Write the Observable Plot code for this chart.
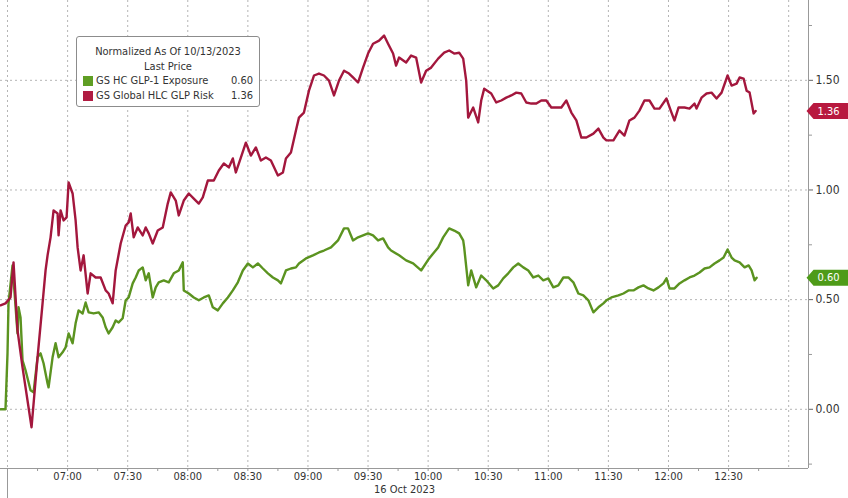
<!DOCTYPE html>
<html><head><meta charset="utf-8">
<script src="https://cdn.jsdelivr.net/npm/d3@7"></script>
<script src="https://cdn.jsdelivr.net/npm/@observablehq/plot@0.6"></script>
<style>
html,body{margin:0;padding:0;background:#fff;}
#wrap{position:relative;width:848px;height:498px;overflow:hidden;}
#legend{position:absolute;left:76px;top:36px;width:184px;height:71px;border:1px solid #8c8c8c;border-radius:3px;background:#fff;box-sizing:border-box;font:11px "DejaVu Sans Condensed","DejaVu Sans",sans-serif;color:#333;}
#legend .t{position:absolute;left:0;width:100%;text-align:center;line-height:14px;}
#legend .e{position:absolute;left:6px;right:6px;height:14px;line-height:14px;display:flex;align-items:center;}
#legend .sq{width:10px;height:10px;margin-right:3px;flex:none;}
#legend .n{flex:1;white-space:nowrap;}
#legend .v{flex:none;}
</style></head>
<body><div id="wrap"><div id="chart"></div><div id="legend"></div></div>
<script>
// ---- data (time = minutes since midnight, 16 Oct 2023) ----
const redName = "GS Global HLC GLP Risk";
const greenName = "GS HC GLP-1 Exposure";
const legendTitle = "Normalized As Of 10/13/2023";
const legendSub = "Last Price";
const dateLabel = "16 Oct 2023";

const redT = [386.5,389,391.5,393,395,397.5,399,402,405,407.5,409,410,411.5,413,415,415.5,416.5,418,419.5,420.5,422.5,424,425,426.5,428,430,431.5,434,436.5,439,440.5,442.5,444,446.5,449,450.5,451.5,453,455,457.5,459,460.5,462.5,465,467.5,470,471.5,474,475.5,478,480.5,483,485.5,487.5,490,493,495.5,498,500.5,502.5,504,506.5,509,511.5,514,516.5,519,521.5,525,527.5,529,531.5,534,535.5,538,540.5,543,545.5,548,550.5,553,555.5,558,560.5,562.5,565,567.5,570,572.5,575.5,578,580,582.5,584,585.5,589,591.5,594,596.5,599,601.5,605,608,610.5,613,615.5,617.5,619,620,622.5,625,626.5,628,631.5,634,636.5,639,641.5,644,646.5,649,651.5,654,656.5,659,661.5,664,666.5,669,671.5,674,676.5,679,682.5,685,687.5,689,692.5,695.5,698,700.5,703,705.5,708,710.5,713,715.5,719,721.5,723,725,728,730.5,733,734,736.5,739,741.5,744,746.5,749.5,751.5,754,755.5,757.5,759,760.5,762.5,763.5];
const redV = [0.474,0.483,0.510,0.670,0.360,0.191,0.100,-0.082,0.237,0.483,0.633,0.702,0.784,0.907,0.893,0.793,0.907,0.861,0.875,1.034,0.984,0.861,0.738,0.633,0.702,0.528,0.620,0.601,0.601,0.542,0.528,0.483,0.633,0.756,0.838,0.852,0.893,0.784,0.829,0.793,0.829,0.802,0.756,0.815,0.829,0.938,0.989,0.952,0.884,0.952,0.984,0.961,0.938,0.966,1.043,1.043,1.089,1.121,1.103,1.144,1.080,1.148,1.216,1.157,1.194,1.134,1.148,1.134,1.066,1.080,1.144,1.171,1.271,1.330,1.353,1.453,1.522,1.531,1.522,1.499,1.431,1.499,1.544,1.531,1.513,1.490,1.558,1.622,1.667,1.681,1.704,1.667,1.622,1.567,1.604,1.581,1.613,1.604,1.490,1.544,1.558,1.599,1.626,1.636,1.622,1.626,1.599,1.499,1.330,1.376,1.308,1.408,1.462,1.440,1.399,1.408,1.421,1.431,1.444,1.440,1.399,1.394,1.394,1.408,1.408,1.376,1.376,1.376,1.408,1.353,1.317,1.239,1.239,1.257,1.280,1.239,1.226,1.226,1.271,1.248,1.317,1.330,1.362,1.408,1.408,1.371,1.371,1.417,1.353,1.317,1.376,1.376,1.371,1.394,1.371,1.421,1.440,1.444,1.417,1.444,1.522,1.476,1.485,1.513,1.508,1.453,1.444,1.349,1.360];

const greenT = [386.5,389,390,390.5,392.5,395,395.5,396.5,397.5,399,401.5,403,405,406.5,408,410,410.5,412.5,414,415.5,417.5,419,420.5,422.5,424,425.5,427.5,429,430.5,433,435.5,437.5,439,440.5,442.5,444,445.5,447.5,449,450.5,452.5,454,455.5,457.5,459,460.5,462.5,464,465.5,468,470.5,473,475.5,477.5,478,480.5,483,485.5,488,490.5,492.5,495,497.5,500,502.5,505,507.5,510,512.5,515,517.5,520,522.5,525,526.5,529,531.5,534,535.5,539,542.5,545.5,548,551.5,555,558,560,562.5,565,567.5,570,572.5,575,577.5,580,581.5,585.5,589,592.5,596.5,600.5,605,607.5,610.5,613,615.5,617.5,618,620,621.5,624,626.5,629,632.5,635,637.5,640,642.5,645,647.5,650,652.5,655,657.5,660,662.5,665,667.5,670,672.5,675,677.5,680,682.5,685,687.5,689,691.5,695,697.5,700,702.5,705,707.5,710,712.5,715,717.5,719,720.5,723,725.5,728,730.5,733,735.5,738,740.5,743,745.5,747.5,749.5,751.5,753,755.5,758,760,761.5,763,764];
const greenV = [0.0,0.0,0.255,0.483,0.656,0.346,0.465,0.419,0.223,0.178,0.087,0.077,0.237,0.255,0.210,0.118,0.100,0.237,0.301,0.237,0.260,0.282,0.346,0.301,0.392,0.451,0.437,0.487,0.442,0.437,0.442,0.419,0.374,0.346,0.374,0.405,0.396,0.415,0.497,0.510,0.574,0.601,0.633,0.647,0.588,0.620,0.510,0.556,0.579,0.588,0.579,0.620,0.633,0.670,0.542,0.528,0.510,0.497,0.510,0.519,0.465,0.451,0.483,0.510,0.542,0.579,0.633,0.665,0.647,0.665,0.642,0.620,0.601,0.588,0.574,0.633,0.642,0.647,0.665,0.688,0.702,0.715,0.724,0.738,0.770,0.825,0.825,0.770,0.784,0.793,0.802,0.793,0.770,0.779,0.738,0.724,0.702,0.679,0.665,0.633,0.688,0.738,0.784,0.825,0.815,0.802,0.770,0.738,0.565,0.633,0.556,0.610,0.588,0.551,0.565,0.597,0.620,0.647,0.665,0.647,0.633,0.601,0.610,0.588,0.597,0.556,0.565,0.601,0.601,0.579,0.528,0.519,0.497,0.442,0.465,0.483,0.497,0.510,0.519,0.528,0.542,0.542,0.556,0.565,0.551,0.542,0.556,0.574,0.597,0.551,0.551,0.574,0.588,0.601,0.610,0.624,0.642,0.647,0.665,0.679,0.692,0.729,0.692,0.679,0.670,0.647,0.656,0.633,0.588,0.600];

const xLabelTicks = ["07:00","07:30","08:00","08:30","09:00","09:30","10:00","10:30","11:00","11:30","12:00","12:30"];
const xGridTicks = ["06:30","07:00","07:30","08:00","08:30","09:00","09:30","10:00","10:30","11:00","11:30","12:00","12:30","13:00"];
const xMinorTicks = ["06:45","07:15","07:45","08:15","08:45","09:15","09:45","10:15","10:45","11:15","11:45","12:15","12:45"];
const yTicks = [0, 0.5, 1.0, 1.5];
const yMinorTicks = [-0.25, 0.25, 0.75, 1.25, 1.75];
const xDomain = [386.5, 789.9];
const yDomain = [-0.27, 1.864];

// ---- build ----
const toMin = s => { const [h, m] = s.split(":").map(Number); return h * 60 + m; };
const fmtTime = t => { const h = Math.floor(t / 60), m = Math.round(t % 60); return String(h).padStart(2, "0") + ":" + String(m).padStart(2, "0"); };
const red = redT.map((t, i) => ({t, v: redV[i]}));
const green = greenT.map((t, i) => ({t, v: greenV[i]}));
const redLast = red[red.length - 1].v;
const greenLast = green[green.length - 1].v;

const RED = "#a3173d", GREEN = "#5b9320";
const RED_BADGE = "#b8193f", GREEN_BADGE = "#4e9b18";
const FONT = '"DejaVu Sans Condensed","DejaVu Sans",sans-serif';

const badge = {draw(ctx) {
  ctx.moveTo(-2, 0); ctx.lineTo(5, -8); ctx.lineTo(44, -8); ctx.lineTo(44, 8); ctx.lineTo(5, 8); ctx.closePath();
}};

const chart = Plot.plot({
  width: 848, height: 498,
  marginLeft: 0, marginRight: 40, marginTop: 0, marginBottom: 30,
  x: {type: "linear", domain: xDomain},
  y: {domain: yDomain},
  style: {fontFamily: FONT, fontSize: "12px", color: "#333", background: "#fff", overflow: "visible"},
  marks: [
    Plot.ruleX(xGridTicks.map(toMin), {stroke: "#b5b5b5", strokeDasharray: "2,3"}),
    Plot.ruleY(yTicks, {stroke: "#b5b5b5", strokeDasharray: "2,3"}),
    Plot.ruleX([toMin(xGridTicks[0])], {stroke: "#999", insetTop: 468, insetBottom: -30}),
    Plot.ruleY([yDomain[0]], {stroke: "#999"}),
    Plot.ruleX([xDomain[1]], {stroke: "#999"}),
    Plot.axisX({ticks: xLabelTicks.map(toMin), tickFormat: fmtTime, tickSize: 3, tickPadding: 1, stroke: "#999", fill: "#333", fontSize: 11, label: null}),
    Plot.axisX({ticks: xMinorTicks.map(toMin), tickFormat: () => "", tickSize: 3, stroke: "#999", label: null}),
    Plot.axisY({anchor: "right", ticks: yTicks, tickFormat: d3.format(".2f"), tickSize: 4, tickPadding: 3, stroke: "#666", fill: "#333", fontSize: 12, label: null}),
    Plot.axisY({anchor: "right", ticks: yMinorTicks, tickFormat: () => "", tickSize: 3, stroke: "#999", label: null}),
    Plot.text([dateLabel], {frameAnchor: "bottom", dy: 24, fontSize: 11, fill: "#333"}),
    Plot.line(green, {x: "t", y: "v", stroke: GREEN, strokeWidth: 2.4, strokeLinejoin: "round"}),
    Plot.line(red, {x: "t", y: "v", stroke: RED, strokeWidth: 2.4, strokeLinejoin: "round"}),
    Plot.dot([redLast], {x: () => xDomain[1], y: d => d, symbol: badge, fill: RED_BADGE, stroke: "none", r: 8}),
    Plot.dot([greenLast], {x: () => xDomain[1], y: d => d, symbol: badge, fill: GREEN_BADGE, stroke: "none", r: 8}),
    Plot.text([redLast], {x: () => xDomain[1], y: d => d, text: d => d.toFixed(2), dx: 20, fill: "#fff", fontSize: 11}),
    Plot.text([greenLast], {x: () => xDomain[1], y: d => d, text: d => d.toFixed(2), dx: 20, fill: "#fff", fontSize: 11})
  ]
});
document.getElementById("chart").appendChild(chart);

// legend
const lg = document.getElementById("legend");
lg.innerHTML = `
  <div class="t" style="top:8px">${legendTitle}</div>
  <div class="t" style="top:23px">${legendSub}</div>
  <div class="e" style="top:37px"><span class="sq" style="background:#5f9e24"></span><span class="n">${greenName}</span><span class="v">${greenLast.toFixed(2)}</span></div>
  <div class="e" style="top:52px"><span class="sq" style="background:#b01c42"></span><span class="n">${redName}</span><span class="v">${redLast.toFixed(2)}</span></div>`;
</script>
</body></html>
